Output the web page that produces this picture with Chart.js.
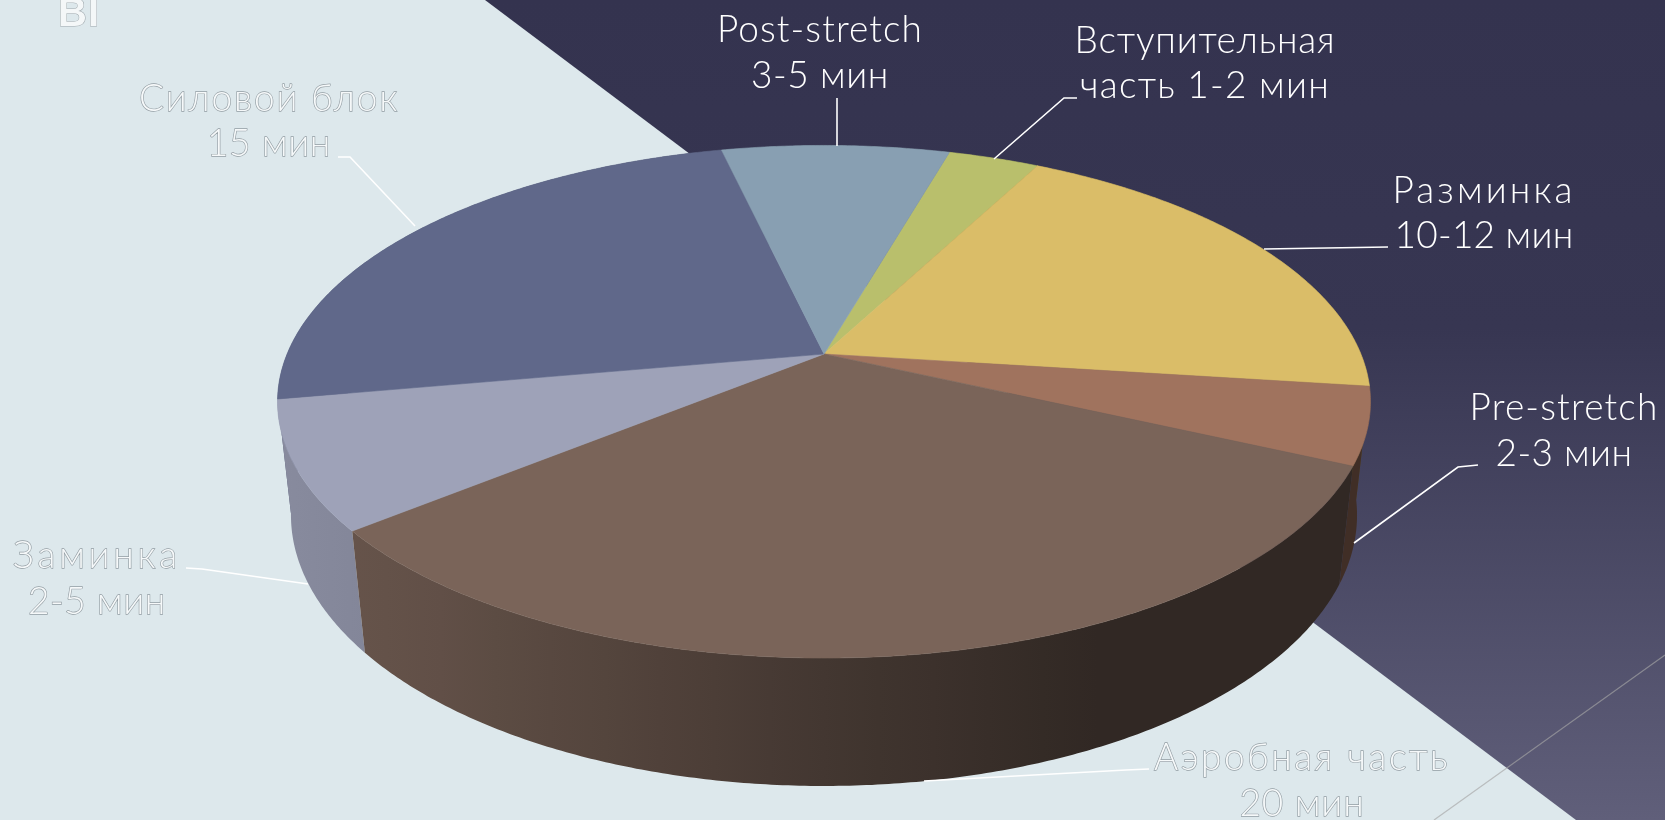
<!DOCTYPE html>
<html>
<head>
<meta charset="utf-8">
<title>Pie</title>
<script src="https://cdn.jsdelivr.net/npm/chart.js@4/dist/chart.umd.min.js"></script>
<style>
html, body { margin: 0; padding: 0; background: #dde8ec; overflow: hidden; }
canvas { display: block; }
</style>
</head>
<body>
<canvas id="mycanvas" width="1665" height="820"></canvas>
<script>
// minutes per block, clockwise starting from the small green slice
var categories = ['Вступительная часть', 'Разминка', 'Pre-stretch', 'Аэробная часть', 'Заминка', 'Силовой блок', 'Post-stretch'];
var minutes = [2, 12, 3, 20, 5, 15, 5];
var colors = ['#b9bf6c', '#dabd68', '#a0735e', '#7a6459', '#9ea2b8', '#60688a', '#889fb2'];

// text on the picture
var labelLines = [
    ['Вступительная', 'часть 1-2 мин'],
    ['Разминка', '10-12 мин'],
    ['Pre-stretch', '2-3 мин'],
    ['Аэробная часть', '20 мин'],
    ['Заминка', '2-5 мин'],
    ['Силовой блок', '15 мин'],
    ['Post-stretch', '3-5 мин']
];
// center x, baseline 1, baseline 2
var labelPos = [[1205, 53, 98], [1484, 203, 248], [1564, 420, 466], [1302, 770, 816], [97, 568, 614], [269, 111, 156], [820, 42, 88]];
// wanted width of each line
var labelWidths = [[261, 250], [183, 179], [189, 137], [296, 125], [168, 138], [260, 124], [206, 138]];
var leaders = [
    [[1077, 98], [1064, 98], [994, 159]],
    [[1388, 247], [1264, 249]],
    [[1478, 465], [1458, 467], [1354, 543]],
    [[1149, 769], [1126, 770], [924, 781]],
    [[186, 568], [202, 569], [308, 584]],
    [[338, 157], [350, 157], [415, 226]],
    [[837, 98], [837, 146]]
];
// labels on the light part get outlined text
var outlined = [false, false, false, true, true, true, false];

// perspective of the disc
var apexX = 824, apexY = 354;
var scaleX = 536.9, scaleY = 247.4, tilt = 0.1863;
// point where the walls converge and the horizon of the disc planes
var vanishY = 5066, horizonY = -974, depthRatio = 0.9004;

function topPoint(ang){
    var u = Math.cos(ang), v = Math.sin(ang);
    var w = 1 - tilt * v;
    return [apexX + scaleX * u / w, apexY + scaleY * v / w];
}

function bottomPoint(p){
    var r = depthRatio * (p[1] - vanishY) / (p[1] - horizonY);
    var y = (vanishY - r * horizonY) / (1 - r);
    var k = (y - vanishY) / (p[1] - vanishY);
    return [apexX + (p[0] - apexX) * k, y];
}

function shade(hex, f){
    var n = parseInt(hex.slice(1), 16);
    var r = Math.round((n >> 16 & 255) * f);
    var g = Math.round((n >> 8 & 255) * f);
    var b = Math.round((n & 255) * f);
    return 'rgb(' + r + ',' + g + ',' + b + ')';
}

function wallFactor(u){
    if(u < -0.78) return 0.82 + (-0.78 - u) * 0.18;
    if(u < 0) return 0.55 + (-u) * 0.346;
    if(u < 0.5) return 0.40 + (0.5 - u) * 0.30;
    return 0.40;
}

function wallGradient(ctx, color){
    var grad = ctx.createLinearGradient(apexX - scaleX * 1.02, 0, apexX + scaleX * 1.02, 0);
    for(var s = 0; s <= 20; s++){
        grad.addColorStop(s / 20, shade(color, wallFactor(s / 10 - 1)));
    }
    return grad;
}

var backdrop = {
    id: 'backdrop',
    beforeDraw: function(chart){
        var ctx = chart.ctx;
        ctx.save();
        ctx.fillStyle = '#dde8ec';
        ctx.fillRect(0, 0, 1665, 820);
        var grad = ctx.createLinearGradient(0, 0, 0, 820);
        grad.addColorStop(0, '#34334f');
        grad.addColorStop(0.4, '#373652');
        grad.addColorStop(1, '#605f7a');
        ctx.fillStyle = grad;
        ctx.beginPath();
        ctx.moveTo(485, 0);
        ctx.lineTo(1665, 0);
        ctx.lineTo(1665, 820);
        ctx.lineTo(1576, 820);
        ctx.closePath();
        ctx.fill();
        ctx.strokeStyle = 'rgba(166,166,166,0.65)';
        ctx.lineWidth = 1.2;
        ctx.beginPath();
        ctx.moveTo(1665, 655);
        ctx.lineTo(1434, 820);
        ctx.stroke();
        ctx.fillStyle = '#f4f7f8';
        ctx.strokeStyle = '#a0a9ae';
        ctx.lineWidth = 1;
        ctx.font = 'bold 40px "Liberation Sans"';
        ctx.letterSpacing = '1px';
        ctx.textAlign = 'left';
        ctx.strokeText('BI', 58, 26);
        ctx.fillText('BI', 58, 26);
        ctx.restore();
    }
};

var disc3d = {
    id: 'disc3d',
    // the library gives the angles of every slice, the disc is projected from them
    beforeDatasetsDraw: function(chart){
        var ctx = chart.ctx;
        var arcs = chart.getDatasetMeta(0).data;
        var step = Math.PI / 360;
        var order = [];
        var i, a, p;
        ctx.save();
        for(i = 0; i < arcs.length; i++) order.push(i);
        order.sort(function(m, n){
            return Math.sin((arcs[m].startAngle + arcs[m].endAngle) / 2) - Math.sin((arcs[n].startAngle + arcs[n].endAngle) / 2);
        });
        // walls, back to front
        order.forEach(function(idx){
            var rim = [];
            for(a = arcs[idx].startAngle; a < arcs[idx].endAngle; a += step) rim.push(topPoint(a));
            rim.push(topPoint(arcs[idx].endAngle));
            ctx.fillStyle = wallGradient(ctx, colors[idx]);
            ctx.beginPath();
            rim.forEach(function(pt, n){
                if(n == 0) ctx.moveTo(pt[0], pt[1]);
                else ctx.lineTo(pt[0], pt[1]);
            });
            for(var n = rim.length - 1; n >= 0; n--){
                var low = bottomPoint(rim[n]);
                ctx.lineTo(low[0], low[1]);
            }
            ctx.closePath();
            ctx.fill();
        });
        // top face
        for(i = 0; i < arcs.length; i++){
            ctx.fillStyle = colors[i];
            ctx.strokeStyle = colors[i];
            ctx.lineWidth = 0.6;
            ctx.beginPath();
            ctx.moveTo(apexX, apexY);
            for(a = arcs[i].startAngle; a < arcs[i].endAngle; a += step){
                p = topPoint(a);
                ctx.lineTo(p[0], p[1]);
            }
            p = topPoint(arcs[i].endAngle);
            ctx.lineTo(p[0], p[1]);
            ctx.closePath();
            ctx.fill();
            ctx.stroke();
        }
        ctx.restore();
        return false;
    },
    afterDraw: function(chart){
        var ctx = chart.ctx;
        ctx.save();
        ctx.strokeStyle = '#ffffff';
        ctx.lineWidth = 1.6;
        leaders.forEach(function(line){
            ctx.beginPath();
            line.forEach(function(pt, n){
                if(n == 0) ctx.moveTo(pt[0], pt[1]);
                else ctx.lineTo(pt[0], pt[1]);
            });
            ctx.stroke();
        });
        ctx.font = '300 37px Lato';
        ctx.textAlign = 'center';
        ctx.textBaseline = 'alphabetic';
        labelLines.forEach(function(lines, i){
            var pos = labelPos[i];
            for(var n = 0; n < 2; n++){
                ctx.letterSpacing = '0px';
                var w = ctx.measureText(lines[n]).width;
                ctx.letterSpacing = ((labelWidths[i][n] - w) / lines[n].length).toFixed(2) + 'px';
                if(outlined[i]){
                    ctx.strokeStyle = '#939da3';
                    ctx.lineWidth = 1.3;
                    ctx.strokeText(lines[n], pos[0], pos[n + 1]);
                    ctx.fillStyle = '#f6f9fa';
                } else {
                    ctx.fillStyle = '#ffffff';
                }
                ctx.fillText(lines[n], pos[0], pos[n + 1]);
            }
        });
        ctx.restore();
    }
};

var ctx = document.getElementById('mycanvas');
var pie = new Chart(ctx, {
    type: 'pie',
    data: {
        labels: categories,
        datasets: [{
            data: minutes,
            backgroundColor: colors,
            borderWidth: 0
        }]
    },
    options: {
        responsive: false,
        animation: false,
        rotation: 16,
        plugins: {
            legend: {display: false},
            tooltip: {enabled: false}
        }
    },
    plugins: [backdrop, disc3d]
});
</script>
</body>
</html>
